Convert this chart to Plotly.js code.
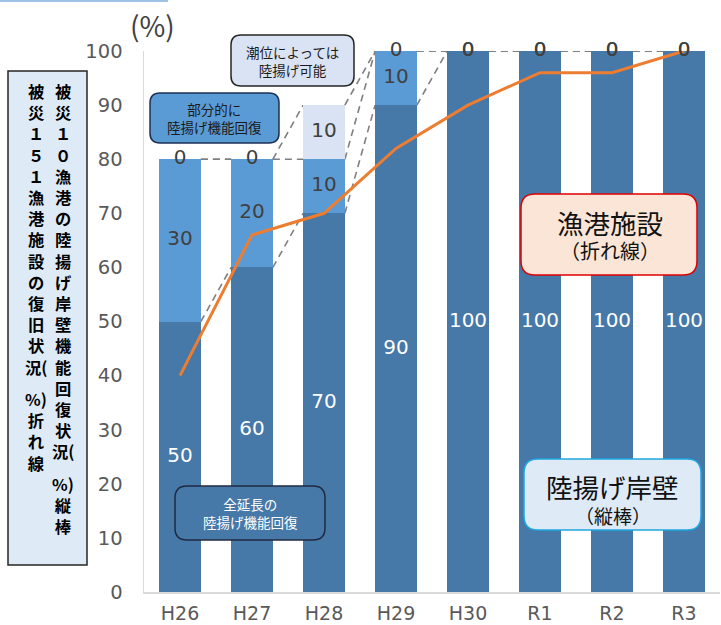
<!DOCTYPE html>
<html>
<head>
<meta charset="utf-8">
<script src="https://cdn.plot.ly/plotly-3.0.1.min.js"></script>
<style>
html,body{margin:0;padding:0;background:#fff}
#chart{width:721px;height:625px}
</style>
</head>
<body>
<div id="chart"></div>
<script>
// ---- data ----
const categories = ['H26','H27','H28','H29','H30','R1','R2','R3'];
const fullRestored = [50,60,70,90,100,100,100,100];     // 全延長の陸揚げ機能回復
const partialRestored = [30,20,10,10,0,0,0,0];          // 部分的に陸揚げ機能回復
const tideDependent = [0,0,10,0,0,0,0,0];              // 潮位によっては陸揚げ可能
const facilityRecovery = [40,66,70,82,90,96,96,100];   // 被災151漁港施設の復旧状況
const yTicks = [0,10,20,30,40,50,60,70,80,90,100];
const colRightTop = ['被','災','１','０','漁','港','の','陸','揚','げ','岸','壁','機','能','回','復','状','況('];
const colRightBottom = ['%)','縦','棒'];
const colLeftTop = ['被','災','１','５','１','漁','港','施','設','の','復','旧','状','況('];
const colLeftBottom = ['%)','折','れ','線'];

const FONT = '"Noto Sans CJK JP", "Noto Sans", sans-serif';
const NUMFONT = '"DejaVu Sans", "Noto Sans", sans-serif';
const W = 721, H = 625, L = 144, R = 1, T = 51, B = 33;
const PW = W - L - R, PH = H - T - B;
const X = px => (px - L) / PW;
const Y = py => (H - B - py) / PH;

const cDark = '#4678A8', cMid = '#5B9BD5', cLight = '#DAE3F3';
const BW = 0.58;

const traces = [
  {type:'bar', x:categories, y:fullRestored, marker:{color:cDark}, width:BW, hoverinfo:'skip'},
  {type:'bar', x:categories, y:partialRestored, marker:{color:cMid}, width:BW, hoverinfo:'skip'},
  {type:'bar', x:categories, y:tideDependent, marker:{color:cLight}, width:BW, hoverinfo:'skip'},
  {type:'scatter', mode:'lines', x:categories, y:facilityRecovery,
   line:{color:'#ED7D31', width:3}, hoverinfo:'skip'}
];

// cumulative tops
const c1 = fullRestored.slice();
const c2 = c1.map((v,i)=>v+partialRestored[i]);
const c3 = c2.map((v,i)=>v+tideDependent[i]);

// value labels
const series = [
  {vals:fullRestored, base:categories.map(()=>0), color:'#FFFFFF'},
  {vals:partialRestored, base:c1, color:'#404040'},
  {vals:tideDependent, base:c2, color:'#404040'}
];
series.forEach(s=>{
  traces.push({type:'scatter', mode:'text', x:categories,
    y:s.vals.map((v,i)=>s.base[i]+v/2), text:s.vals.map(String),
    textposition:'middle center', textfont:{family:NUMFONT, size:20, color:s.color},
    hoverinfo:'skip', cliponaxis:false});
});

const shapes = [];
// series lines (dashed)
[c1,c2,c3].forEach(c=>{
  for (let i=0;i<c.length-1;i++){
    shapes.push({type:'line', xref:'x', yref:'y', x0:i+BW/2, x1:i+1-BW/2, y0:c[i], y1:c[i+1],
      line:{color:'#7F7F7F', width:1.6, dash:'7px,5px'}, layer:'below'});
  }
});

function rrect(x0,y0,x1,y1,r,fill,stroke,sw){
  const p = (x,y)=>X(x).toFixed(5)+','+Y(y).toFixed(5);
  const d = 'M'+p(x0+r,y0)+' L'+p(x1-r,y0)+' Q'+p(x1,y0)+' '+p(x1,y0+r)+
    ' L'+p(x1,y1-r)+' Q'+p(x1,y1)+' '+p(x1-r,y1)+' L'+p(x0+r,y1)+' Q'+p(x0,y1)+' '+p(x0,y1-r)+
    ' L'+p(x0,y0+r)+' Q'+p(x0,y0)+' '+p(x0+r,y0)+' Z';
  shapes.push({type:'path', xref:'paper', yref:'paper', path:d, fillcolor:fill,
    line:{color:stroke, width:sw}, layer:'above'});
}
// top-left decorative line
shapes.push({type:'line', xref:'paper', yref:'paper', x0:X(0), x1:X(168), y0:Y(1), y1:Y(1),
  line:{color:'#9DC3E6', width:2}});
// left vertical title box
shapes.push({type:'rect', xref:'paper', yref:'paper', x0:X(8), x1:X(87), y0:Y(71), y1:Y(565),
  fillcolor:'#DEEBF7', line:{color:'#262626', width:1.5}});
rrect(150,93,279,143,10,cMid,'#1F3055',1.5);
rrect(231,35,354,86,10,cLight,'#262626',1.5);
rrect(175,486,325,540,12,cDark,'#1F2A40',1.5);
rrect(521,194,697,275,14,'#FBE5D6','#E00000',1.5);
rrect(524,459,701,530,14,'#DEEBF7','#1FA8E0',1.5);

const ann = [];
function txt(px,py,s,size,color,extra){
  ann.push(Object.assign({xref:'paper', yref:'paper', x:X(px), y:Y(py), text:s, showarrow:false,
    xanchor:'center', yanchor:'middle', borderpad:0, font:{family:FONT, size:size, color:color}}, extra||{}));
}
txt(152,25,'(%)',28,'#404040');
txt(214.5,118,'部分的に<br>陸揚げ機能回復',13.5,'#1A1A1A');
txt(292.5,60.5,'潮位によっては<br>陸揚げ可能',13.5,'#1A1A1A');
txt(250,513,'全延長の<br>陸揚げ機能回復',13.5,'#FFFFFF');
txt(610,222,'漁港施設',26.5,'#111111');
txt(610,250,'（折れ線）',20,'#111111');
txt(612.5,486,'陸揚げ岸壁',26.5,'#111111');
txt(612.5,515,'（縦棒）',19,'#111111');

// vertical title text (one character per line)
const STEP = 21.2, VS = STEP/1.3;
function column(chars, xc, firstY){
  const n = chars.length;
  txt(xc, firstY + (n-1)*STEP/2, chars.map(c=>'<b>'+c+'</b>').join('<br>'), VS, '#000000');
}
column(colRightTop, 63, 91);
column(colRightBottom, 63, 484);
column(colLeftTop, 36, 91);
column(colLeftBottom, 36, 399);

const layout = {
  width:W, height:H, margin:{l:L, r:R, t:T, b:B},
  paper_bgcolor:'#FFFFFF', plot_bgcolor:'#FFFFFF',
  barmode:'stack', showlegend:false,
  xaxis:{type:'category', showgrid:false, zeroline:false, showline:true, linecolor:'#D9D9D9', linewidth:1.5,
    ticks:'', tickfont:{family:NUMFONT, size:19, color:'#595959'}, ticklabelstandoff:4, fixedrange:true},
  yaxis:{range:[0,100], tickvals:yTicks, showgrid:false, zeroline:false, showline:true, linecolor:'#D9D9D9', linewidth:1.5,
    ticks:'', tickfont:{family:NUMFONT, size:19.5, color:'#595959'}, ticklabelstandoff:16, fixedrange:true},
  shapes:shapes, annotations:ann, font:{family:FONT}
};
Plotly.newPlot('chart', traces, layout, {displayModeBar:false, staticPlot:true});
</script>
</body>
</html>
